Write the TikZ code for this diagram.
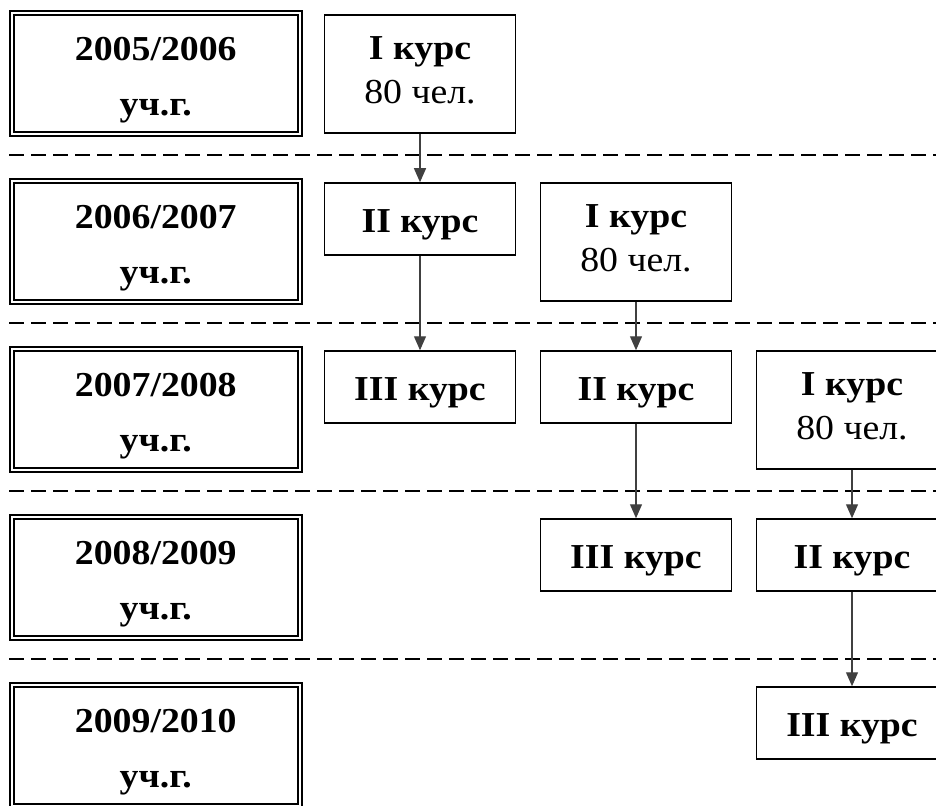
\documentclass[tikz,border=0pt]{standalone}
\usepackage{fontspec}
\setmainfont{Liberation Serif}[FakeStretch=1.08]
\usetikzlibrary{arrows.meta}

\newcommand\yeartext[1]{\rule{0pt}{37pt}#1\\уч.г.}

\tikzset{
  yearbox/.style={draw, double, double distance=2.5pt, line width=1.5pt,
    minimum width=288pt, minimum height=121pt, inner sep=0pt, align=center,
    font=\fontsize{35}{55}\selectfont\bfseries},
  kursbox/.style={draw, line width=1.5pt, minimum width=191pt, inner sep=0pt,
    align=center, font=\fontsize{35}{44}\selectfont},
  twoline/.style={kursbox, minimum height=118pt,
    execute at end node={\rule[-8pt]{0pt}{8pt}}},
  oneline/.style={kursbox, minimum height=72pt, font=\fontsize{35}{44}\selectfont\bfseries,
    execute at begin node={\rule{0pt}{35pt}}},
  sep/.style={dash pattern=on 15pt off 7pt, line width=1.5pt},
  flow/.style={-{Triangle[width=12pt,length=14pt]}, line width=1.2pt, draw=black!75}
}

\begin{document}
\begin{tikzpicture}[x=1pt, y=-1pt]
\useasboundingbox (0,0) rectangle (936,805);
\clip (0,0) rectangle (936,805);
% school years
\node[yearbox] (y1) at (155.75,73.5) {\yeartext{2005/2006}};
\node[yearbox] (y2) at (155.75,241.5) {\yeartext{2006/2007}};
\node[yearbox] (y3) at (155.75,409.5) {\yeartext{2007/2008}};
\node[yearbox] (y4) at (155.75,577.5) {\yeartext{2008/2009}};
\node[yearbox] (y5) at (155.75,745.5) {\yeartext{2009/2010}};
% separators
\draw[sep] (9,155) -- (936,155);
\draw[sep] (9,323) -- (936,323);
\draw[sep] (9,491) -- (936,491);
\draw[sep] (9,659) -- (936,659);
% courses
\node[twoline] (k11) at (420,74) {\textbf{I курс}\\80 чел.};
\node[oneline] (k21) at (420,219) {II курс};
\node[twoline] (k22) at (636,242) {\textbf{I курс}\\80 чел.};
\node[oneline] (k31) at (420,387) {III курс};
\node[oneline] (k32) at (636,387) {II курс};
\node[twoline] (k33) at (852,410) {\textbf{I курс}\\80 чел.};
\node[oneline] (k42) at (636,555) {III курс};
\node[oneline] (k43) at (852,555) {II курс};
\node[oneline] (k53) at (852,723) {III курс};
% transitions
\draw[flow] (k11) -- (k21);
\draw[flow] (k21) -- (k31);
\draw[flow] (k22) -- (k32);
\draw[flow] (k32) -- (k42);
\draw[flow] (k33) -- (k43);
\draw[flow] (k43) -- (k53);
\end{tikzpicture}
\end{document}
